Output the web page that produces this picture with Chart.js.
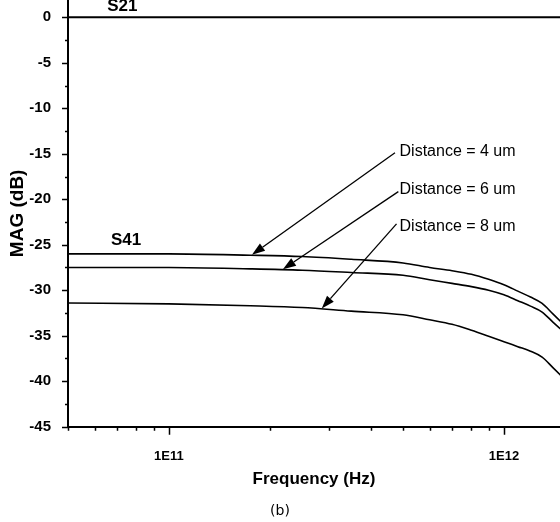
<!DOCTYPE html>
<html>
<head>
<meta charset="utf-8">
<script src="https://cdn.jsdelivr.net/npm/chart.js@4/dist/chart.umd.min.js"></script>
<style>
  html, body { margin: 0; padding: 0; background: #fff; }
  #wrap { width: 560px; height: 522px; position: relative; }
</style>
</head>
<body>
<div id="wrap"><canvas id="c"></canvas></div>
<script>
// Frequency sweep (Hz)
const frequencies = [5e10, 1e11, 1.75e11, 2.5e11, 3.5e11, 5e11, 6e11, 7e11, 8e11, 9e11, 1e12, 1.1e12, 1.2e12, 1.3e12, 1.4e12, 1.5e12];
// Through transmission S21 (dB)
const s21 = [0, 0, 0, 0, 0, 0, 0, 0, 0, 0, 0, 0, 0, 0, 0, 0];
// Coupling S41 (dB) for three line spacings
const s41Distance4 = [-26.0, -26.0, -26.15, -26.3, -26.6, -27.0, -27.5, -27.85, -28.25, -28.8, -29.4, -30.1, -30.75, -31.45, -32.6, -33.7];
const s41Distance6 = [-27.5, -27.5, -27.65, -27.8, -28.05, -28.35, -28.85, -29.25, -29.6, -30.0, -30.5, -31.15, -31.75, -32.4, -33.5, -34.5];
const s41Distance8 = [-31.4, -31.5, -31.7, -31.9, -32.3, -32.7, -33.25, -33.75, -34.4, -35.05, -35.65, -36.2, -36.7, -37.35, -38.5, -39.6];

// Axis ticks
const magTicks = [-45, -40, -35, -30, -25, -20, -15, -10, -5, 0];
const freqTicks = [1e11, 1e12];
const freqMin = 5e10, freqMax = 1.47e12;
const magMin = -45, magMax = 1.9;

// Callouts: label position, arrow tail and arrow tip
const calloutText = ['Distance = 4 um', 'Distance = 6 um', 'Distance = 8 um'];
const calloutLabelFreq = [4.88e11, 4.88e11, 4.88e11];
const calloutLabelMag = [-14.77, -18.98, -23.0];
const calloutTailFreq = [4.73e11, 4.84e11, 4.78e11];
const calloutTailMag = [-14.88, -19.16, -22.71];
const calloutTipFreq = [1.77e11, 2.19e11, 2.86e11];
const calloutTipMag = [-26.1, -27.7, -32.0];

// Curve group labels
const groupText = ['S21', 'S41'];
const groupFreq = [7.26e10, 7.45e10];
const groupMag = [1.16, -24.5];

const toPoints = vals => frequencies.map((f, i) => ({ x: f, y: vals[i] }));

const figureMarks = {
  id: 'figureMarks',
  afterDraw(chart) {
    const { ctx, scales: { x, y }, chartArea } = chart;
    ctx.save();
    ctx.strokeStyle = '#000';
    ctx.fillStyle = '#000';

    // tick marks: long on labelled values, short in between
    ctx.lineWidth = 1.5;
    ctx.beginPath();
    const lo = Math.floor(Math.log10(freqMin)), hi = Math.ceil(Math.log10(freqMax));
    for (let k = lo; k <= hi; k++) {
      for (let m = 1; m <= 9; m++) {
        const v = m * Math.pow(10, k);
        if (v < freqMin || v > freqMax) continue;
        const px = Math.round(x.getPixelForValue(v)) + 0.5;
        const len = m === 1 ? 8 : 4;
        ctx.moveTo(px, chartArea.bottom);
        ctx.lineTo(px, chartArea.bottom + len);
      }
    }
    for (let v = magMin; v <= 0; v += 2.5) {
      const py = Math.round(y.getPixelForValue(v)) + 0.5;
      const len = (v % 5 === 0) ? 6 : 3;
      ctx.moveTo(chartArea.left, py);
      ctx.lineTo(chartArea.left - len, py);
    }
    ctx.stroke();

    // arrows
    ctx.lineWidth = 1.3;
    for (let i = 0; i < calloutText.length; i++) {
      const x0 = x.getPixelForValue(calloutTailFreq[i]);
      const y0 = y.getPixelForValue(calloutTailMag[i]);
      const x1 = x.getPixelForValue(calloutTipFreq[i]);
      const y1 = y.getPixelForValue(calloutTipMag[i]);
      const a = Math.atan2(y1 - y0, x1 - x0);
      const head = 13, half = 4.5;
      const bx = x1 - head * Math.cos(a), by = y1 - head * Math.sin(a);
      ctx.beginPath();
      ctx.moveTo(x0, y0);
      ctx.lineTo(bx, by);
      ctx.stroke();
      ctx.beginPath();
      ctx.moveTo(x1, y1);
      ctx.lineTo(bx + half * Math.sin(a), by - half * Math.cos(a));
      ctx.lineTo(bx - half * Math.sin(a), by + half * Math.cos(a));
      ctx.closePath();
      ctx.fill();
    }

    // callout text
    ctx.font = '16px "Liberation Sans", Arial, sans-serif';
    ctx.textAlign = 'left';
    ctx.textBaseline = 'middle';
    for (let i = 0; i < calloutText.length; i++) {
      ctx.fillText(calloutText[i], x.getPixelForValue(calloutLabelFreq[i]), y.getPixelForValue(calloutLabelMag[i]));
    }

    // group labels
    ctx.font = 'bold 17px "Liberation Sans", Arial, sans-serif';
    ctx.textAlign = 'center';
    for (let i = 0; i < groupText.length; i++) {
      ctx.fillText(groupText[i], x.getPixelForValue(groupFreq[i]), y.getPixelForValue(groupMag[i]));
    }
    ctx.restore();
  }
};

const lineStyle = { borderColor: '#000', borderWidth: 1.6, pointRadius: 0, fill: false, cubicInterpolationMode: 'monotone' };

new Chart(document.getElementById('c'), {
  type: 'line',
  data: {
    datasets: [
      { label: 'S21', data: toPoints(s21), ...lineStyle, borderWidth: 2 },
      { label: 'S41 Distance = 4 um', data: toPoints(s41Distance4), ...lineStyle },
      { label: 'S41 Distance = 6 um', data: toPoints(s41Distance6), ...lineStyle },
      { label: 'S41 Distance = 8 um', data: toPoints(s41Distance8), ...lineStyle }
    ]
  },
  options: {
    responsive: true,
    maintainAspectRatio: false,
    animation: false,
    layout: { padding: 0 },
    plugins: {
      legend: { display: false },
      tooltip: { enabled: false },
      title: {
        display: true,
        position: 'bottom',
        text: '(b)',
        color: '#000',
        font: { family: '"DejaVu Sans", sans-serif', size: 14, weight: 'normal', lineHeight: 1.2 },
        padding: { top: 0, bottom: 2 }
      }
    },
    scales: {
      x: {
        type: 'logarithmic',
        min: freqMin,
        max: freqMax,
        afterBuildTicks: s => { s.ticks = freqTicks.map(v => ({ value: v })); },
        afterFit: s => { s.height = 76.5; s.paddingLeft = 0; s.paddingRight = 0; },
        grid: { display: false },
        border: { display: true, color: '#000', width: 2 },
        ticks: {
          color: '#000',
          padding: 13.5,
          maxRotation: 0,
          autoSkip: false,
          font: { family: '"Liberation Sans", Arial, sans-serif', size: 13, weight: 'bold', lineHeight: 1.2 },
          callback: v => '1E' + Math.round(Math.log10(v))
        },
        title: {
          display: true,
          text: 'Frequency (Hz)',
          color: '#000',
          font: { family: '"Liberation Sans", Arial, sans-serif', size: 17, weight: 'bold', lineHeight: 1.2 },
          padding: { top: 0, bottom: 14 }
        }
      },
      y: {
        type: 'linear',
        min: magMin,
        max: magMax,
        afterBuildTicks: s => { s.ticks = magTicks.map(v => ({ value: v })); },
        afterFit: s => { s.width = 68; s.paddingTop = 0; s.paddingBottom = 0; },
        grid: { display: false },
        border: { display: true, color: '#000', width: 2 },
        ticks: {
          color: '#000',
          padding: 9,
          font: { family: '"Liberation Sans", Arial, sans-serif', size: 15, weight: 'bold', lineHeight: 1.2 },
          callback: v => String(v)
        },
        title: {
          display: true,
          text: 'MAG (dB)',
          color: '#000',
          font: { family: '"Liberation Sans", Arial, sans-serif', size: 19, weight: 'bold', lineHeight: 1.2 },
          padding: { top: 6.6, bottom: 0 }
        }
      }
    }
  },
  plugins: [figureMarks]
});
</script>
</body>
</html>
